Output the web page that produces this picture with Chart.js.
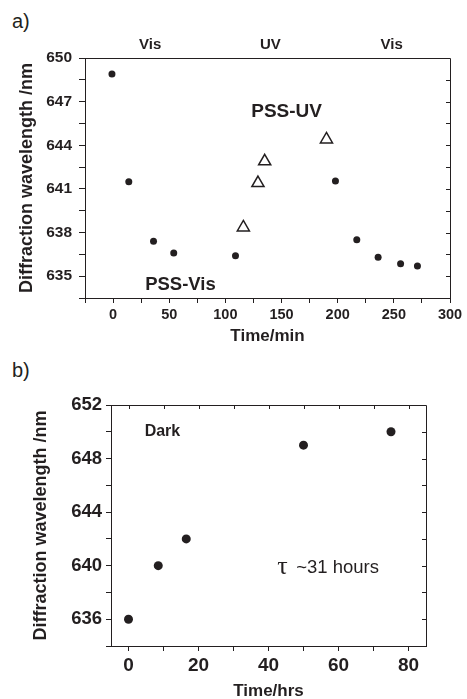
<!DOCTYPE html>
<html lang="en">
<head>
<meta charset="utf-8" />
<title>Diffraction wavelength vs time</title>
<style>
  html, body { margin: 0; padding: 0; background: #fff; overflow: hidden; }
  body { width: 467px; height: 699px; position: relative; font-family: "Liberation Sans", Arial, sans-serif; color: #231f20; }
  .panel { position: absolute; left: 12px; font-size: 20px; line-height: 20px; }
  canvas { position: absolute; left: 0; }
</style>
</head>
<body>
<div class="panel" style="top:11px">a)</div>
<div class="panel" style="top:360px">b)</div>
<canvas id="chartA" width="467" height="350" style="top:0"></canvas>
<canvas id="chartB" width="467" height="370" style="top:340px"></canvas>
<script src="https://cdn.jsdelivr.net/npm/chart.js"></script>
<script>
// panel a: Vis / UV switching
const timeVis = [-1, 14, 36, 54, 109, 198, 217, 236, 256, 271];
const wavelengthVis = [648.9, 641.5, 637.4, 636.6, 636.4, 641.55, 637.5, 636.3, 635.85, 635.7];
const timeUV = [116, 129, 135, 190];
const wavelengthUV = [638.35, 641.4, 642.9, 644.4];
const xTicksA = [-25, 0, 25, 50, 75, 100, 125, 150, 175, 200, 225, 250, 275, 300];
const xLabelsA = [0, 50, 100, 150, 200, 250, 300];
const yTicksA = [633.5, 635, 636.5, 638, 639.5, 641, 642.5, 644, 645.5, 647, 648.5, 650];
const yLabelsA = [635, 638, 641, 644, 647, 650];

// panel b: dark relaxation
const timeDark = [0, 8.5, 16.5, 50, 75];
const wavelengthDark = [636, 640, 642, 649, 650];
const xTicksB = [0, 10, 20, 30, 40, 50, 60, 70, 80];
const xLabelsB = [0, 20, 40, 60, 80];
const yTicksB = [634, 636, 638, 640, 642, 644, 646, 648, 650, 652];
const yLabelsB = [636, 640, 644, 648, 652];

const ink = "#231f20";
const family = '"Liberation Sans", Arial, sans-serif';

function toPoints(xs, ys) {
  return xs.map((x, i) => ({ x: x, y: ys[i] }));
}

function makeAxis(o) {
  return {
    type: "linear",
    min: o.min,
    max: o.max,
    afterBuildTicks: (s) => { s.ticks = o.ticks.map((v) => ({ value: v })); },
    afterFit: (s) => { if (o.width) s.width = o.width; if (o.height) s.height = o.height; },
    ticks: {
      autoSkip: false,
      maxRotation: 0,
      color: ink,
      padding: o.pad,
      font: { family: family, size: o.tickSize, weight: "bold" },
      callback: (v) => (o.labels.includes(v) ? String(v) : ""),
    },
    grid: { drawOnChartArea: false, drawTicks: true, tickLength: o.tickLen, color: ink },
    border: { display: true, color: ink, width: 1 },
    title: {
      display: true,
      text: o.title,
      color: ink,
      font: { family: family, size: o.titleSize, weight: "bold" },
      padding: o.titlePad,
    },
  };
}

// box round the plot, inward ticks on the far sides, text notes
const framePlugin = {
  id: "frame",
  afterDraw(chart, args, opts) {
    const { ctx, chartArea: a, scales } = chart;
    ctx.save();
    ctx.strokeStyle = ink;
    ctx.lineWidth = 1;
    ctx.beginPath();
    ctx.moveTo(a.left, a.top + 0.5);
    ctx.lineTo(a.right + 0.5, a.top + 0.5);
    ctx.lineTo(a.right + 0.5, a.bottom);
    if (opts.rightTicks) {
      scales.y.ticks.forEach((t) => {
        const y = Math.round(scales.y.getPixelForValue(t.value)) + 0.5;
        ctx.moveTo(a.right, y);
        ctx.lineTo(a.right - 4, y);
      });
    }
    if (opts.topTicks) {
      scales.x.ticks.forEach((t) => {
        const x = Math.round(scales.x.getPixelForValue(t.value)) + 0.5;
        ctx.moveTo(x, a.top);
        ctx.lineTo(x, a.top + 4);
      });
    }
    ctx.stroke();

    ctx.fillStyle = ink;
    ctx.textBaseline = "middle";
    (opts.notes || []).forEach((n) => {
      ctx.font = n.font;
      ctx.textAlign = n.align || "center";
      ctx.fillText(n.text, scales.x.getPixelForValue(n.x), scales.y.getPixelForValue(n.y));
    });
    ctx.restore();
  },
};

Chart.register(framePlugin);

new Chart(document.getElementById("chartA"), {
  type: "scatter",
  data: {
    datasets: [
      {
        label: "Vis",
        data: toPoints(timeVis, wavelengthVis),
        pointStyle: "circle",
        pointRadius: 3.5,
        backgroundColor: ink,
        borderColor: ink,
        borderWidth: 0,
      },
      {
        label: "UV",
        data: toPoints(timeUV, wavelengthUV),
        pointStyle: "triangle",
        pointRadius: 7,
        backgroundColor: "#fff",
        borderColor: ink,
        borderWidth: 1.5,
      },
    ],
  },
  options: {
    responsive: false,
    animation: false,
    devicePixelRatio: 1,
    layout: { padding: { left: 0, top: 58, right: 17, bottom: 0 } },
    plugins: {
      legend: { display: false },
      tooltip: { enabled: false },
      frame: {
        rightTicks: true,
        notes: [
          { text: "Vis", x: 33, y: 650.91, font: "bold 15px " + family },
          { text: "UV", x: 140, y: 650.91, font: "bold 15px " + family },
          { text: "Vis", x: 248, y: 650.91, font: "bold 15px " + family },
          { text: "PSS-UV", x: 154.5, y: 646.28, font: "bold 19px " + family },
          { text: "PSS-Vis", x: 60, y: 634.43, font: "bold 18.5px " + family },
        ],
      },
    },
    scales: {
      x: makeAxis({
        min: -25, max: 300, ticks: xTicksA, labels: xLabelsA, height: 52,
        pad: 3, tickLen: 5, tickSize: 14.5, title: "Time/min", titleSize: 17,
        titlePad: { top: 0, bottom: 3.5 },
      }),
      y: makeAxis({
        min: 633.5, max: 650, ticks: yTicksA, labels: yLabelsA, width: 85,
        pad: 7, tickLen: 6, tickSize: 15.5, title: "Diffraction wavelength /nm", titleSize: 18,
        titlePad: { top: 16, bottom: 0 },
      }),
    },
  },
});

new Chart(document.getElementById("chartB"), {
  type: "scatter",
  data: {
    datasets: [
      {
        label: "Dark",
        data: toPoints(timeDark, wavelengthDark),
        pointStyle: "circle",
        pointRadius: 4.5,
        backgroundColor: ink,
        borderColor: ink,
        borderWidth: 0,
      },
    ],
  },
  options: {
    responsive: false,
    animation: false,
    devicePixelRatio: 1,
    layout: { padding: { left: 0, top: 65, right: 41, bottom: 0 } },
    plugins: {
      legend: { display: false },
      tooltip: { enabled: false },
      frame: {
        rightTicks: true,
        topTicks: true,
        notes: [
          { text: "Dark", x: 9.7, y: 650, font: "bold 16px " + family },
          { text: "\u03c4", x: 44, y: 639.9, font: "26px \"Liberation Serif\", serif" },
          { text: "~31 hours", x: 47.9, y: 639.85, font: "18.5px " + family, align: "left" },
        ],
      },
    },
    scales: {
      x: makeAxis({
        min: -5, max: 85, ticks: xTicksB, labels: xLabelsB, height: 64,
        pad: 3, tickLen: 5, tickSize: 19, title: "Time/hrs", titleSize: 17,
        titlePad: { top: 0, bottom: 8 },
      }),
      y: makeAxis({
        min: 634, max: 652, ticks: yTicksB, labels: yLabelsB, width: 111,
        pad: 4, tickLen: 5, tickSize: 18.5, title: "Diffraction wavelength /nm", titleSize: 18,
        titlePad: { top: 30, bottom: 0 },
      }),
    },
  },
});
</script>
</body>
</html>
